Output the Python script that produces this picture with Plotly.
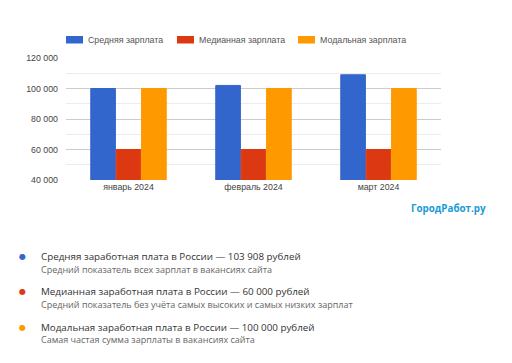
import plotly.graph_objects as go

months = ["январь 2024", "февраль 2024", "март 2024"]
series_names = ["Средняя зарплата", "Медианная зарплата", "Модальная зарплата"]
avg_salary = [100000, 102000, 109000]
median_salary = [60000, 60000, 60000]
modal_salary = [100000, 100000, 100000]
colors = ["#3366cc", "#dc3912", "#ff9900"]

info_titles = [
    "Средняя заработная плата в России — 103 908 рублей",
    "Медианная заработная плата в России — 60 000 рублей",
    "Модальная заработная плата в России — 100 000 рублей",
]
info_subtitles = [
    "Средний показатель всех зарплат в вакансиях сайта",
    "Средний показатель без учёта самых высоких и самых низких зарплат",
    "Самая частая сумма зарплаты в вакансиях сайта",
]
brand = "ГородРабот.ру"

OFF = 8  # page body margin
W, H = 512 - OFF, 363 - OFF
L, R, T, B = 66 - OFF, 441 - OFF, 58 - OFF, 180 - OFF
pw, ph = R - L, B - T


def px(x):
    return (x - OFF - L) / pw


def py(y):
    return (B - (y - OFF)) / ph


fig = go.Figure()
for name, vals, c in zip(series_names, [avg_salary, median_salary, modal_salary], colors):
    fig.add_trace(go.Bar(x=months, y=vals, name=name, marker=dict(color=c, line=dict(color=c, width=1)),
                         showlegend=False))

chart_font = "Arial, Liberation Sans"
shapes = []
annotations = []
leg_x = [66, 177, 298]
for i, (name, c) in enumerate(zip(series_names, colors)):
    x0 = leg_x[i]
    shapes.append(dict(type="rect", xref="paper", yref="paper", x0=px(x0), x1=px(x0 + 17),
                       y0=py(43.5), y1=py(36), fillcolor=c, line=dict(width=0)))
    annotations.append(dict(xref="paper", yref="paper", x=px(x0 + 20), y=py(40), text=name,
                            showarrow=False, xanchor="left", yanchor="middle",
                            font=dict(family=chart_font, size=8.8, color="#555")))

annotations.append(dict(xref="paper", yref="paper", x=px(488), y=py(208), text="<b>" + brand + "</b>",
                        showarrow=False, xanchor="right", yanchor="middle",
                        font=dict(family="Open Sans", size=9.8, color="#1a9ad6")))

dot_y = [256, 291, 327]
for i in range(3):
    yy = dot_y[i]
    annotations.append(dict(xref="paper", yref="paper", x=px(22.7), y=py(yy + 0.5), text="●",
                            showarrow=False, xanchor="center", yanchor="middle",
                            font=dict(family="DejaVu Sans", size=8, color=colors[i])))
    annotations.append(dict(xref="paper", yref="paper", x=px(38.5), y=py(yy), text=info_titles[i],
                            showarrow=False, xanchor="left", yanchor="middle",
                            font=dict(family="Open Sans", size=9.8, color="#333")))
    annotations.append(dict(xref="paper", yref="paper", x=px(38.5), y=py(yy + 13), text=info_subtitles[i],
                            showarrow=False, xanchor="left", yanchor="middle",
                            font=dict(family="Open Sans", size=9, color="#666")))

fig.update_layout(
    width=W, height=H,
    margin=dict(l=L, r=W - R, t=T, b=H - B, pad=0),
    paper_bgcolor="white", plot_bgcolor="white",
    barmode="group", bargap=0.39, bargroupgap=0.03,
    separators=", ",
    shapes=shapes, annotations=annotations,
    xaxis=dict(showgrid=False, showline=False, ticks="",
               tickfont=dict(family=chart_font, size=8.8, color="#444")),
    yaxis=dict(range=[40000, 120000], dtick=20000, tickformat=",d", gridcolor="#cccccc", gridwidth=1,
               zeroline=False, showline=False, ticks="", ticklen=0, ticklabelstandoff=7,
               tickfont=dict(family=chart_font, size=8.8, color="#444"),
               minor=dict(dtick=10000, showgrid=True, gridcolor="#ececec", gridwidth=1)),
)
fig.write_html("out.html")
